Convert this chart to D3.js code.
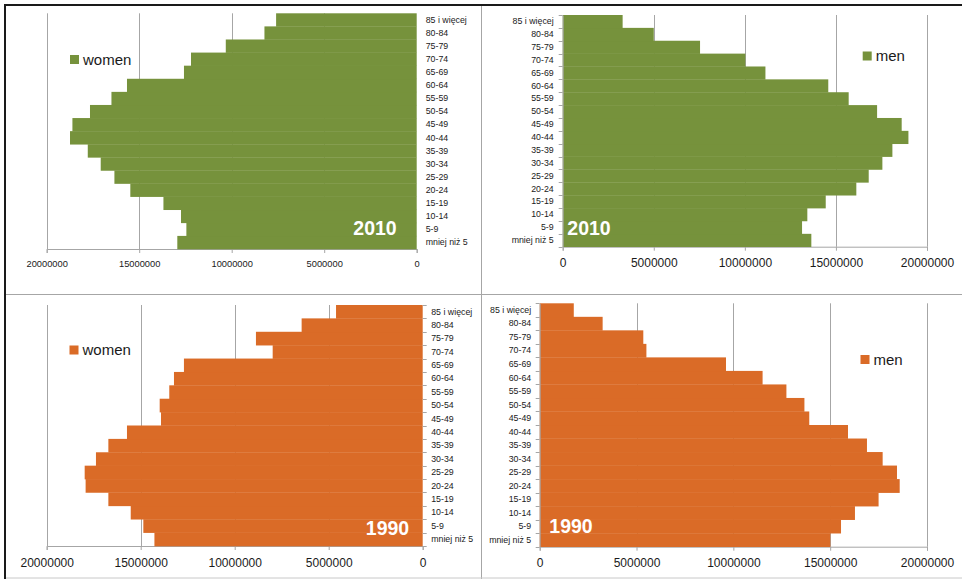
<!DOCTYPE html>
<html><head><meta charset="utf-8">
<script src="https://cdn.jsdelivr.net/npm/d3@7"></script>
<style>
html,body{margin:0;padding:0;background:#fff;}
svg{display:block;font-family:"Liberation Sans",Arial,sans-serif;}
</style></head>
<body>
<svg id="c" width="962" height="579"></svg>
<script>
const categories = ["mniej niż 5","5-9","10-14","15-19","20-24","25-29","30-34","35-39","40-44","45-49","50-54","55-59","60-64","65-69","70-74","75-79","80-84","85 i więcej"];
const women2010 = [12940000,12450000,12740000,13690000,15480000,16340000,17080000,17780000,18740000,18610000,17660000,16500000,15660000,12580000,12200000,10320000,8230000,7600000];
const men2010   = [13650000,13140000,13430000,14440000,16120000,16800000,17550000,18100000,18980000,18610000,17260000,15700000,14580000,11130000,10030000,7540000,5000000,3290000];
const women1990 = [14270000,14860000,15530000,16720000,17930000,17980000,17380000,16720000,15730000,13920000,13990000,13480000,13230000,12700000,7980000,8870000,6440000,4610000];
const men1990   = [15010000,15560000,16280000,17500000,18590000,18450000,17710000,16900000,15920000,13920000,13670000,12740000,11510000,9620000,5510000,5350000,3250000,1760000];
const tickValues = [0,5000000,10000000,15000000,20000000];
const seriesNames = ["women","men"];
const years = ["2010","1990"];

const GREEN = "#76923c", ORANGE = "#da6b27";
const svg = d3.select("#c");

// frame
svg.append("line").attr("x1",4).attr("x2",962).attr("y1",5).attr("y2",5).attr("stroke","#1a1a1a").attr("stroke-width",2);
svg.append("line").attr("x1",5).attr("x2",5).attr("y1",4).attr("y2",579).attr("stroke","#1a1a1a").attr("stroke-width",2);
svg.append("line").attr("x1",481.5).attr("x2",481.5).attr("y1",6).attr("y2",579).attr("stroke","#a6a6a6");
svg.append("line").attr("x1",6).attr("x2",962).attr("y1",294.5).attr("y2",294.5).attr("stroke","#a6a6a6");
svg.append("line").attr("x1",6).attr("x2",962).attr("y1",578).attr("y2",578).attr("stroke","#c8c8c8");

function panel(cfg){
  const g = svg.append("g");
  const x = d3.scaleLinear().domain([0,20000000]).range([cfg.x0, cfg.x1]);
  const y = d3.scaleBand().domain(categories.slice().reverse()).range([cfg.yTop, cfg.yBot]).padding(0);
  // gridlines
  g.selectAll("line.grid").data(tickValues.slice(1)).enter().append("line")
    .attr("x1",d=>Math.round(x(d))+0.5).attr("x2",d=>Math.round(x(d))+0.5)
    .attr("y1",cfg.yTop).attr("y2",cfg.yBot).attr("stroke","#a6a6a6");
  // bottom axis
  const axg = g.append("g").attr("transform",`translate(0,${cfg.yBot})`)
    .call(d3.axisBottom(x).tickValues(tickValues).tickFormat(d3.format("d")).tickSize(4).tickPadding(cfg.tickPad));
  axg.select(".domain").attr("stroke","#a6a6a6");
  axg.selectAll(".tick line").attr("stroke","#a6a6a6");
  axg.selectAll(".tick text").attr("fill","#1a1a1a").style("font-size",cfg.tickFont+"px").style("font-family","Liberation Sans, Arial, sans-serif");
  // bars
  g.selectAll("rect.bar").data(cfg.values).enter().append("rect")
    .attr("x",d=>Math.min(x(0),x(d)))
    .attr("width",d=>Math.abs(x(d)-x(0)))
    .attr("y",(d,i)=>y(categories[i]))
    .attr("height",y.bandwidth()+0.3)
    .attr("fill",cfg.color);
  // category axis
  const cax = cfg.left ? d3.axisRight(y) : d3.axisLeft(y);
  const cg = g.append("g").attr("transform",`translate(${x(0)},0)`)
    .call(cax.tickSize(0).tickPadding(cfg.catPad));
  cg.select(".domain").attr("stroke", cfg.left ? "none" : "#a6a6a6");
  cg.selectAll(".tick text").attr("fill","#1a1a1a").style("font-size","8.8px").style("font-family","Liberation Sans, Arial, sans-serif");
  if (cfg.catTicks){
    const bounds = d3.range(categories.length+1).map(i=>cfg.yTop + i*y.step());
    g.selectAll("line.ct").data(bounds).enter().append("line")
      .attr("x1",x(0)).attr("x2",x(0) + (cfg.left?4:-4))
      .attr("y1",d=>Math.round(d)+0.5).attr("y2",d=>Math.round(d)+0.5)
      .attr("stroke","#a6a6a6");
  }
  // legend
  g.append("rect").attr("x",cfg.legX).attr("y",cfg.legY-4.5).attr("width",9).attr("height",9).attr("fill",cfg.color);
  g.append("text").attr("x",cfg.legX+13).attr("y",cfg.legY).attr("dy","0.35em")
    .style("font-size","15px").attr("fill","#1a1a1a").text(cfg.name);
  // year
  g.append("text").attr("x",cfg.yearX).attr("y",cfg.yearY).attr("text-anchor","middle")
    .style("font-size","19.5px").style("font-weight","bold").attr("fill","#fff").text(cfg.year);
}

panel({values:women2010,color:GREEN,left:true,x0:416.7,x1:46.7,yTop:13.3,yBot:249,tickFont:9.3,tickPad:7,catPad:9,catTicks:false,
  legX:70,legY:59.5,name:seriesNames[0],yearX:375,yearY:235,year:years[0]});
panel({values:men2010,color:GREEN,left:false,x0:562.7,x1:927,yTop:15,yBot:246.7,tickFont:12,tickPad:8,catPad:9,catTicks:true,
  legX:862.7,legY:56,name:seriesNames[1],yearX:589,yearY:235,year:years[0]});
panel({values:women1990,color:ORANGE,left:true,x0:422.7,x1:46.7,yTop:305,yBot:546,tickFont:12,tickPad:8,catPad:8.5,catTicks:true,
  legX:69.5,legY:350,name:seriesNames[0],yearX:387.5,yearY:535,year:years[1]});
panel({values:men1990,color:ORANGE,left:false,x0:539.7,x1:927,yTop:303.3,yBot:546.7,tickFont:12,tickPad:8,catPad:8.5,catTicks:true,
  legX:860.5,legY:359.5,name:seriesNames[1],yearX:571,yearY:532.5,year:years[1]});
</script>
</body></html>
